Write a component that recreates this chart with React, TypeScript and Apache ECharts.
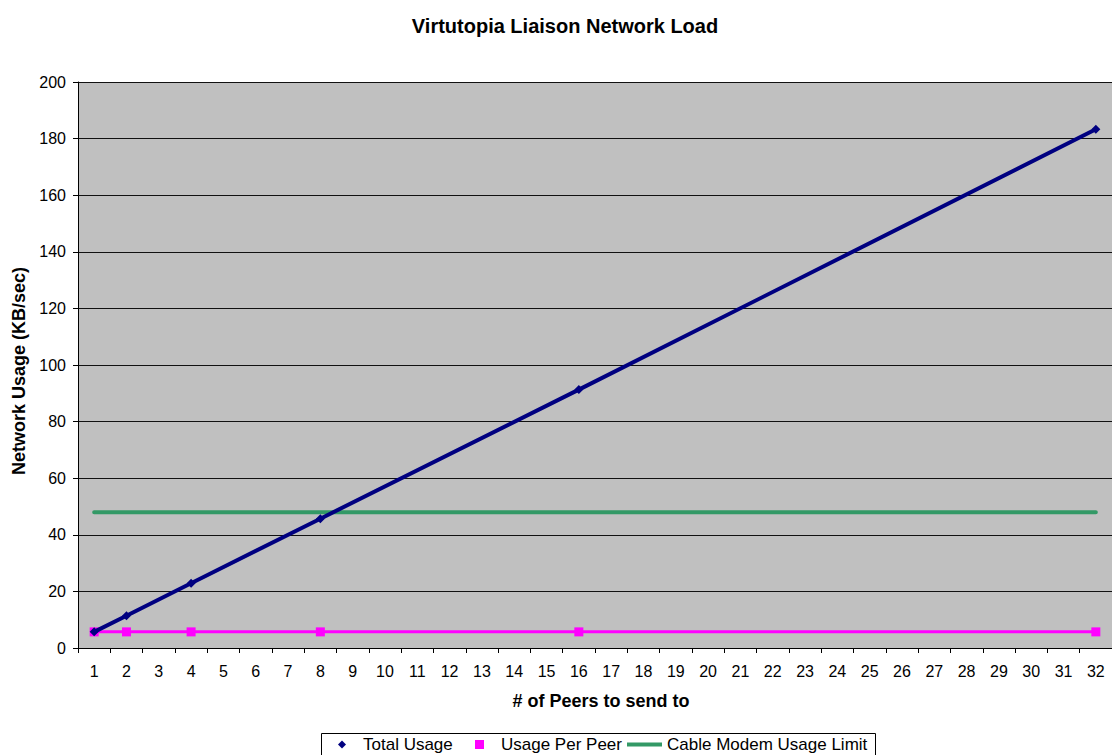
import React, { useEffect, useRef } from "react";
import * as echarts from "echarts";

const categories = [
  "1", "2", "3", "4", "5", "6", "7", "8", "9", "10", "11", "12", "13", "14", "15", "16",
  "17", "18", "19", "20", "21", "22", "23", "24", "25", "26", "27", "28", "29", "30", "31", "32",
];
const totalUsage = [
  5.7, 11.4, null, 22.9, null, null, null, 45.7, null, null, null, null, null, null, null, 91.3,
  null, null, null, null, null, null, null, null, null, null, null, null, null, null, null, 183.3,
];
const usagePerPeer = [
  5.7, 5.7, null, 5.7, null, null, null, 5.7, null, null, null, null, null, null, null, 5.7,
  null, null, null, null, null, null, null, null, null, null, null, null, null, null, null, 5.7,
];
const cableModemLimit = [
  48, 48, 48, 48, 48, 48, 48, 48, 48, 48, 48, 48, 48, 48, 48, 48,
  48, 48, 48, 48, 48, 48, 48, 48, 48, 48, 48, 48, 48, 48, 48, 48,
];
const yTicks = { min: 0, max: 200, interval: 20 };

const FONT = "'Liberation Sans', Arial, sans-serif";

export default function App() {
  const ref = useRef<HTMLDivElement>(null);
  useEffect(() => {
    document.body.style.margin = "0";
    const chart = echarts.init(ref.current!, null, { renderer: "svg" });
    const legendText = { fontFamily: FONT, fontSize: 17, color: "#000", lineHeight: 17 };
    chart.setOption({
      animation: false,
      backgroundColor: "#fff",
      title: {
        text: "Virtutopia Liaison Network Load",
        left: 560,
        textAlign: "center",
        top: 11,
        textStyle: { fontFamily: FONT, fontSize: 20, fontWeight: "bold", color: "#000" },
      },
      grid: { left: 78, right: 0, top: 82, bottom: 107, show: true, backgroundColor: "#C0C0C0", borderWidth: 0 },
      xAxis: {
        type: "category",
        data: categories,
        boundaryGap: true,
        name: "# of Peers to send to",
        nameLocation: "middle",
        nameGap: 44,
        nameTextStyle: { fontFamily: FONT, fontSize: 18, fontWeight: "bold", color: "#000", padding: [0, 0, 0, 12] },
        axisLine: { lineStyle: { color: "#000", width: 1 } },
        axisTick: { show: true, interval: 0, length: 5, lineStyle: { color: "#000" } },
        axisLabel: { interval: 0, margin: 15, fontFamily: FONT, fontSize: 16, color: "#000" },
        splitLine: { show: false },
      },
      yAxis: {
        type: "value",
        min: yTicks.min,
        max: yTicks.max,
        interval: yTicks.interval,
        name: "Network Usage (KB/sec)",
        nameLocation: "middle",
        nameGap: 42,
        nameTextStyle: { fontFamily: FONT, fontSize: 18, fontWeight: "bold", color: "#000", padding: [0, 12, 0, 0] },
        axisLine: { show: true, lineStyle: { color: "#000", width: 1 } },
        axisTick: { show: true, length: 5, lineStyle: { color: "#000" } },
        axisLabel: { margin: 12, fontFamily: FONT, fontSize: 16, color: "#000" },
        splitLine: { show: true, lineStyle: { color: "#111", width: 1 } },
      },
      legend: [
        {
          data: [{ name: "Total Usage", icon: "diamond" }],
          left: 338, top: 736, padding: 0, itemWidth: 8, itemHeight: 8,
          textStyle: { ...legendText, padding: [0, 0, 0, 12] },
        },
        {
          data: [{ name: "Usage Per Peer", icon: "rect" }],
          left: 475, top: 736, padding: 0, itemWidth: 9, itemHeight: 9,
          textStyle: { ...legendText, padding: [0, 0, 0, 12] },
        },
        {
          data: [{ name: "Cable Modem Usage Limit", icon: "rect" }],
          left: 627, top: 736, padding: 0, itemWidth: 35, itemHeight: 4,
          textStyle: { ...legendText },
        },
      ],
      graphic: [
        {
          type: "rect",
          left: 319,
          top: 731,
          shape: { width: 554, height: 30 },
          style: { fill: "none", stroke: "#000", lineWidth: 1 },
          silent: true,
          z: 10,
        },
      ],
      series: [
        {
          name: "Usage Per Peer",
          type: "line",
          data: usagePerPeer,
          connectNulls: true,
          symbol: "rect",
          symbolSize: 9,
          itemStyle: { color: "#FF00FF" },
          lineStyle: { color: "#FF00FF", width: 3 },
          z: 3,
        },
        {
          name: "Cable Modem Usage Limit",
          type: "line",
          data: cableModemLimit,
          showSymbol: false,
          symbol: "none",
          itemStyle: { color: "#339966" },
          lineStyle: { color: "#339966", width: 4, cap: "round" },
          z: 2,
        },
        {
          name: "Total Usage",
          type: "line",
          data: totalUsage,
          connectNulls: true,
          symbol: "diamond",
          symbolSize: 9,
          itemStyle: { color: "#000080" },
          lineStyle: { color: "#000080", width: 4 },
          z: 4,
        },
      ],
    });
    return () => chart.dispose();
  }, []);
  return <div ref={ref} style={{ width: 1112, height: 755 }} />;
}
